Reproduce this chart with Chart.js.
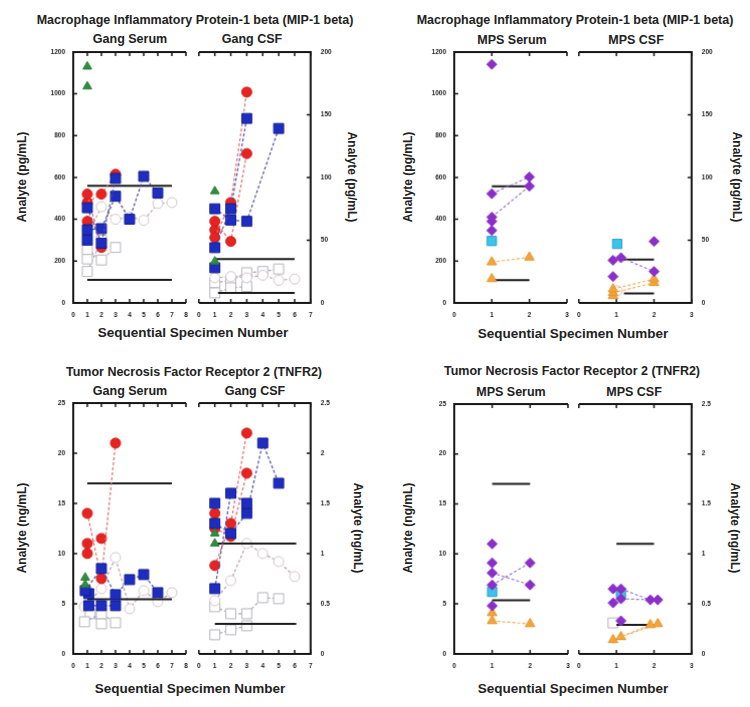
<!DOCTYPE html>
<html lang="en">
<head>
<meta charset="UTF-8">
<title>MIP-1 beta and TNFR2 by specimen</title>
<script src="https://cdn.jsdelivr.net/npm/chart.js@4"></script>
<style>
  body { margin: 0; background: #fff; }
  #page { position: relative; width: 750px; height: 707px; overflow: hidden;
          font-family: "Liberation Sans", Arial, sans-serif; color: #222; }
  #page canvas { position: absolute; }
  .txt { position: absolute; font-weight: bold; white-space: nowrap; transform: translate(-50%, -50%); }
  .title { font-size: 12.5px; }
  .sub { font-size: 12.5px; }
  .xlab { font-size: 13.5px; }
  .ylab { font-size: 12px; }
  .rotL { transform: translate(-50%, -50%) rotate(-90deg); }
  .rotR { transform: translate(-50%, -50%) rotate(90deg); }
</style>
</head>
<body>
<div id="page">
  <div class="txt title" style="left:195px;top:20px">Macrophage Inflammatory Protein-1 beta (MIP-1 beta)</div>
  <div class="txt sub" style="left:130px;top:39px">Gang Serum</div>
  <div class="txt sub" style="left:252px;top:39px">Gang CSF</div>
  <div class="txt ylab rotL" style="left:22px;top:177px">Analyte (pg/mL)</div>
  <div class="txt ylab rotR" style="left:352px;top:177px">Analyte (pg/mL)</div>
  <div class="txt xlab" style="left:193px;top:332px">Sequential Specimen Number</div>

  <div class="txt title" style="left:575px;top:20px">Macrophage Inflammatory Protein-1 beta (MIP-1 beta)</div>
  <div class="txt sub" style="left:512px;top:40px">MPS Serum</div>
  <div class="txt sub" style="left:636px;top:40px">MPS CSF</div>
  <div class="txt ylab rotL" style="left:408px;top:177px">Analyte (pg/mL)</div>
  <div class="txt ylab rotR" style="left:737px;top:177px">Analyte (pg/mL)</div>
  <div class="txt xlab" style="left:573px;top:333px">Sequential Specimen Number</div>

  <div class="txt title" style="left:194px;top:372px">Tumor Necrosis Factor Receptor 2 (TNFR2)</div>
  <div class="txt sub" style="left:130px;top:391px">Gang Serum</div>
  <div class="txt sub" style="left:255px;top:391px">Gang CSF</div>
  <div class="txt ylab rotL" style="left:22px;top:528px">Analyte (ng/mL)</div>
  <div class="txt ylab rotR" style="left:358px;top:528px">Analyte (ng/mL)</div>
  <div class="txt xlab" style="left:190px;top:688px">Sequential Specimen Number</div>

  <div class="txt title" style="left:572px;top:371px">Tumor Necrosis Factor Receptor 2 (TNFR2)</div>
  <div class="txt sub" style="left:511px;top:392px">MPS Serum</div>
  <div class="txt sub" style="left:634px;top:392px">MPS CSF</div>
  <div class="txt ylab rotL" style="left:408px;top:528px">Analyte (ng/mL)</div>
  <div class="txt ylab rotR" style="left:735px;top:528px">Analyte (ng/mL)</div>
  <div class="txt xlab" style="left:573px;top:688px">Sequential Specimen Number</div>
</div>
<script>
// each track = one subject, [specimen number, value] pairs
// reference lines = [x start, x end, value]

// MIP-1 beta, gang serum (pg/mL)
const mipGangSerumGreen = [[[1, 1130]], [[1, 1035]]];
const mipGangSerumBlue = [
  [[1, 455], [2, 285], [3, 595]],
  [[1, 350], [2, 355], [3, 510], [4, 400], [5, 605], [6, 525]],
  [[1, 300]]
];
const mipGangSerumRed = [[[1, 520], [2, 265]], [[1, 480], [2, 520], [3, 615]], [[1, 390]]];
const mipGangSerumOpenSq = [[[1, 255], [2, 205], [3, 265]], [[1, 210]], [[1, 150], [2, 300]]];
const mipGangSerumOpenCi = [[[1, 320], [2, 460], [3, 400], [4, 410], [5, 395], [6, 475], [7, 480]]];
const mipGangSerumRefs = [[1, 7, 560], [1, 7, 110]];

// MIP-1 beta, gang CSF (pg/mL)
const mipGangCsfGreen = [[[1, 89]], [[1, 33]]];
const mipGangCsfBlue = [
  [[1, 44], [2, 75], [3, 147]],
  [[1, 75], [2, 66], [3, 65], [5, 139]],
  [[1, 28]]
];
const mipGangCsfRed = [[[1, 52], [2, 80], [3, 168]], [[1, 65], [2, 49], [3, 119]], [[1, 58]]];
const mipGangCsfOpenSq = [[[1, 8], [2, 12], [3, 13]], [[1, 16], [2, 18], [3, 24], [4, 25], [5, 27]]];
const mipGangCsfOpenCi = [[[1, 20], [2, 21], [3, 20], [4, 22], [5, 18], [6, 19]]];
const mipGangCsfRefs = [[1, 6, 35], [1.2, 6, 8]];

// MIP-1 beta, MPS serum (pg/mL)
const mipMpsSerumPurple = [[[1, 1141]], [[1, 522], [2, 602]], [[1, 410], [2, 558]], [[1, 390]], [[1, 346]]];
const mipMpsSerumCyan = [[[1, 296]]];
const mipMpsSerumOrange = [[[1, 195], [2, 218]], [[1, 115]]];
const mipMpsSerumRefs = [[1, 2, 557], [1, 2, 109]];

// MIP-1 beta, MPS CSF (pg/mL)
const mipMpsCsfPurple = [[[0.91, 34]], [[1.12, 36], [2, 25]], [[0.91, 21]], [[2, 49]]];
const mipMpsCsfCyan = [[[1.02, 47]]];
const mipMpsCsfOrange = [[[0.91, 11], [2, 19]], [[0.91, 8], [2, 16]], [[0.91, 5.6]]];
const mipMpsCsfOpenCi = [[[1.02, 9.6]]];
const mipMpsCsfRefs = [[1.1, 2, 34.5], [1.2, 2, 7.5]];

// TNFR2, gang serum (ng/mL)
const tnfGangSerumGreen = [[[0.85, 7.6]], [[0.85, 6.9]]];
const tnfGangSerumBlue = [
  [[0.85, 6.3], [2, 8.5], [3, 5.9], [4, 7.4], [5, 7.9], [6, 6.1]],
  [[1.1, 6.0]],
  [[1.1, 4.8], [2, 4.8], [3, 4.8]]
];
const tnfGangSerumRed = [[[1, 14], [2, 7.5], [3, 21]], [[1, 11], [2, 11.5]], [[1, 10]]];
const tnfGangSerumOpenSq = [[[0.8, 3.2], [2, 4.0], [3, 3.1]], [[1.2, 4.0], [2, 3.0]]];
const tnfGangSerumOpenCi = [[[0.8, 4.7], [2, 6.5], [3, 9.6], [4, 4.5], [5, 6.3], [6, 5.2], [7, 6.1]]];
const tnfGangSerumRefs = [[1, 7, 17], [1, 7, 5.45]];

// TNFR2, gang CSF (ng/mL)
const tnfGangCsfGreen = [[[1, 1.2]], [[1, 1.1]]];
const tnfGangCsfBlue = [
  [[1, 0.65], [2, 1.6], [3, 1.5]],
  [[1, 1.5]],
  [[1, 1.3], [2, 1.2], [3, 1.4], [4, 2.1], [5, 1.7]]
];
const tnfGangCsfRed = [[[1, 0.88], [2, 1.3], [3, 2.2]], [[1, 1.25], [2, 1.17], [3, 1.8]], [[1, 1.4]]];
const tnfGangCsfOpenSq = [[[1, 0.47], [2, 0.4], [3, 0.4], [4, 0.56], [5, 0.55]], [[1, 0.19], [2, 0.24], [3, 0.28]]];
const tnfGangCsfOpenCi = [[[1, 0.53], [2, 0.73], [3, 1.1], [4, 1.0], [5, 0.92], [6, 0.77]]];
const tnfGangCsfRefs = [[1, 6.1, 1.1], [1, 6.1, 0.3]];

// TNFR2, MPS serum (ng/mL)
const tnfMpsSerumPurple = [[[1, 11.0]], [[1, 9.1]], [[1, 8.1], [2, 6.9]], [[1, 6.9], [2, 9.1]], [[1, 4.8]]];
const tnfMpsSerumCyan = [[[1, 6.2]]];
const tnfMpsSerumOrange = [[[1, 4.1]], [[1, 3.3], [2, 3.0]]];
const tnfMpsSerumRefs = [[1, 2, 17], [1, 2, 5.35]];

// TNFR2, MPS CSF (ng/mL)
const tnfMpsCsfPurple = [[[0.91, 0.65]], [[1.12, 0.65], [1.9, 0.54]], [[0.91, 0.51]], [[1.12, 0.55], [2.1, 0.54]], [[1.12, 0.33]]];
const tnfMpsCsfCyan = [[[1.12, 0.61]]];
const tnfMpsCsfOpenSq = [[[0.91, 0.31]]];
const tnfMpsCsfOrange = [[[0.91, 0.14], [1.9, 0.29]], [[1.12, 0.17], [2.1, 0.3]]];
const tnfMpsCsfRefs = [[1, 2, 1.1], [1, 2, 0.29]];

const STYLE = {
  green:  { shape: 'triangle', r: 5,   fill: '#2f8f3c', edge: '#2a7a35', line: '#6aa070' },
  blue:   { shape: 'rect',     r: 7,   fill: '#1d2dc4', edge: '#121c88', line: '#4f4aa8' },
  red:    { shape: 'circle',   r: 5,   fill: '#e8231f', edge: '#d01c18', line: '#e06a6a' },
  purple: { shape: 'rectRot',  r: 5,   fill: '#8a2fc9', edge: '#8a2fc9', line: '#9a78c8' },
  cyan:   { shape: 'rect',     r: 6.5, fill: '#3cc3ea', edge: '#2a9cc8', line: '#3cc3ea' },
  orange: { shape: 'triangle', r: 5.5, fill: '#f2a43a', edge: '#e8962a', line: '#f2b060' },
  openSq: { shape: 'rect',     r: 7,   fill: '#ffffff', edge: '#b4b4be', line: '#a8a4b8' },
  openCi: { shape: 'circle',   r: 5,   fill: '#ffffff', edge: '#d6c4c8', line: '#b8a0a8' }
};

function series(tracks, key) {
  const s = STYLE[key];
  return tracks.map(t => ({
    data: t.map(p => ({ x: p[0], y: p[1] })),
    showLine: t.length > 1,
    borderColor: s.line, borderWidth: 1.2, borderDash: [3, 2],
    pointStyle: s.shape, pointRadius: s.r,
    pointBackgroundColor: s.fill, pointBorderColor: s.edge, pointBorderWidth: 1
  }));
}

function refLines(refs) {
  return refs.map(r => ({
    data: [{ x: r[0], y: r[2] }, { x: r[1], y: r[2] }],
    showLine: true, borderColor: '#1a1a1a', borderWidth: 2, pointRadius: 0
  }));
}

const AXIS_COLOR = '#151515';
const tickFont = { family: '"Liberation Sans", Arial, sans-serif', size: 6.5, weight: 'bold' };

// open frame: top + bottom + the labelled side, ticks pointing inward
const framePlugin = {
  id: 'frame',
  beforeDatasetsDraw(chart) {
    const { ctx, chartArea: a, scales: { x, y } } = chart;
    const ex = y.position === 'left' ? a.left : a.right;
    const dir = y.position === 'left' ? 1 : -1;
    ctx.save();
    ctx.strokeStyle = AXIS_COLOR;
    ctx.lineWidth = 2;
    ctx.beginPath();
    ctx.moveTo(a.left, a.top); ctx.lineTo(a.right, a.top);
    ctx.moveTo(a.left, a.bottom); ctx.lineTo(a.right, a.bottom);
    ctx.moveTo(ex, a.top - 1); ctx.lineTo(ex, a.bottom + 1);
    ctx.stroke();
    ctx.lineWidth = 1.5;
    ctx.beginPath();
    x.ticks.forEach(t => {
      const px = x.getPixelForValue(t.value);
      ctx.moveTo(px, a.top); ctx.lineTo(px, a.top + 4);
      ctx.moveTo(px, a.bottom); ctx.lineTo(px, a.bottom - 4);
    });
    y.ticks.forEach(t => {
      const py = y.getPixelForValue(t.value);
      ctx.moveTo(ex, py); ctx.lineTo(ex + 4 * dir, py);
    });
    ctx.stroke();
    ctx.restore();
  }
};

// box = plot area in page pixels, side = where the y labels go
function subplot(box, side, xMax, yMax, yStep, datasets) {
  const padT = 6, padS = 6, axW = 34, axH = 22;
  const w = box[2] - box[0], h = box[3] - box[1];
  const cv = document.createElement('canvas');
  cv.width = w + axW + padS;
  cv.height = h + padT + axH;
  document.getElementById('page').appendChild(cv);

  const chart = new Chart(cv, {
    type: 'scatter',
    data: { datasets },
    plugins: [framePlugin],
    options: {
      responsive: false,
      maintainAspectRatio: false,
      animation: false,
      events: [],
      layout: { padding: { top: padT, bottom: 0, left: side === 'left' ? 0 : padS, right: side === 'left' ? padS : 0 } },
      plugins: { legend: { display: false }, tooltip: { enabled: false } },
      scales: {
        x: {
          type: 'linear', position: 'bottom', min: 0, max: xMax,
          afterFit: s => { s.height = axH; },
          border: { display: false },
          grid: { display: false, drawTicks: false },
          ticks: { stepSize: 1, padding: 8, font: tickFont, color: '#222' }
        },
        y: {
          type: 'linear', position: side, min: 0, max: yMax,
          afterFit: s => { s.width = axW; },
          border: { display: false },
          grid: { display: false, drawTicks: false },
          ticks: { stepSize: yStep, padding: side === 'left' ? 8 : 10, font: tickFont, color: '#222', callback: v => String(v) }
        }
      }
    }
  });

  // grow the canvas so the plot area is exactly w x h, then pin it to the box
  let a = chart.chartArea;
  const dw = w - (a.right - a.left), dh = h - (a.bottom - a.top);
  if (dw || dh) chart.resize(cv.width + dw, cv.height + dh);
  a = chart.chartArea;
  cv.style.left = (box[0] - a.left) + 'px';
  cv.style.top = (box[1] - a.top) + 'px';
}

subplot([73, 52, 185, 302], 'left', 8, 1200, 200, [
  ...series(mipGangSerumGreen, 'green'), ...series(mipGangSerumBlue, 'blue'), ...series(mipGangSerumRed, 'red'),
  ...refLines(mipGangSerumRefs),
  ...series(mipGangSerumOpenCi, 'openCi'), ...series(mipGangSerumOpenSq, 'openSq')
]);
subplot([199, 52, 310, 302], 'right', 7, 200, 50, [
  ...series(mipGangCsfGreen, 'green'), ...series(mipGangCsfBlue, 'blue'), ...series(mipGangCsfRed, 'red'),
  ...refLines(mipGangCsfRefs),
  ...series(mipGangCsfOpenCi, 'openCi'), ...series(mipGangCsfOpenSq, 'openSq')
]);
subplot([454, 52, 566, 302], 'left', 3, 1200, 200, [
  ...series(mipMpsSerumPurple, 'purple'), ...series(mipMpsSerumCyan, 'cyan'), ...series(mipMpsSerumOrange, 'orange'),
  ...refLines(mipMpsSerumRefs)
]);
subplot([579, 52, 691, 302], 'right', 3, 200, 50, [
  ...series(mipMpsCsfPurple, 'purple'), ...series(mipMpsCsfCyan, 'cyan'), ...series(mipMpsCsfOrange, 'orange'),
  ...refLines(mipMpsCsfRefs),
  ...series(mipMpsCsfOpenCi, 'openCi')
]);

subplot([73, 403, 185, 653], 'left', 8, 25, 5, [
  ...series(tnfGangSerumGreen, 'green'), ...series(tnfGangSerumBlue, 'blue'), ...series(tnfGangSerumRed, 'red'),
  ...refLines(tnfGangSerumRefs),
  ...series(tnfGangSerumOpenCi, 'openCi'), ...series(tnfGangSerumOpenSq, 'openSq')
]);
subplot([199, 403, 310, 653], 'right', 7, 2.5, 0.5, [
  ...series(tnfGangCsfGreen, 'green'), ...series(tnfGangCsfBlue, 'blue'), ...series(tnfGangCsfRed, 'red'),
  ...refLines(tnfGangCsfRefs),
  ...series(tnfGangCsfOpenCi, 'openCi'), ...series(tnfGangCsfOpenSq, 'openSq')
]);
subplot([454, 404, 567, 653], 'left', 3, 25, 5, [
  ...series(tnfMpsSerumPurple, 'purple'), ...series(tnfMpsSerumCyan, 'cyan'), ...series(tnfMpsSerumOrange, 'orange'),
  ...refLines(tnfMpsSerumRefs)
]);
subplot([579, 404, 691, 653], 'right', 3, 2.5, 0.5, [
  ...series(tnfMpsCsfPurple, 'purple'), ...series(tnfMpsCsfCyan, 'cyan'), ...series(tnfMpsCsfOrange, 'orange'),
  ...refLines(tnfMpsCsfRefs),
  ...series(tnfMpsCsfOpenSq, 'openSq')
]);
</script>
</body>
</html>
